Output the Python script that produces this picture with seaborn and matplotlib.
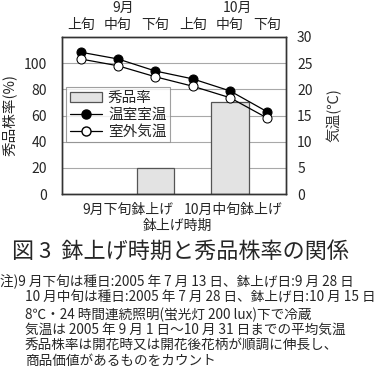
import numpy as np
import pandas as pd
import matplotlib
matplotlib.use("Agg")
from matplotlib import pyplot as plt
from matplotlib.patches import Patch
from matplotlib.lines import Line2D
import seaborn as sns

# data
periods = ["9月上旬", "9月中旬", "9月下旬", "10月上旬", "10月中旬", "10月下旬"]
top_labels = ["上旬", "中旬", "下旬", "上旬", "中旬", "下旬"]
shuhin_rate = [np.nan, np.nan, 20, np.nan, 70, np.nan]
greenhouse_temp = [27.1, 25.8, 23.5, 22.0, 19.7, 15.7]
outdoor_temp = [25.8, 24.5, 22.4, 20.6, 18.4, 14.5]
left_ticks = [0, 20, 40, 60, 80, 100]
right_ticks = [0, 5, 10, 15, 20, 25, 30]

notes = [
    "注)9 月下旬は種日:2005 年 7 月 13 日、鉢上げ日:9 月 28 日",
    "10 月中旬は種日:2005 年 7 月 28 日、鉢上げ日:10 月 15 日",
    "8℃・24 時間連続照明(蛍光灯 200 lux)下で冷蔵",
    "気温は 2005 年 9 月 1 日～10 月 31 日までの平均気温",
    "秀品株率は開花時又は開花後花柄が順調に伸長し、",
    "商品価値があるものをカウント",
]

sns.set_style("white")
plt.rcParams['font.family'] = ['Noto Sans CJK JP', 'DejaVu Sans']

df = pd.DataFrame({"period": periods, "rate": shuhin_rate,
                   "pos": range(len(periods)),
                   "green": greenhouse_temp, "out": outdoor_temp})

fig = plt.figure(figsize=(3.8, 3.8), dpi=100)
ax = fig.add_axes([62 / 380, 1 - 194 / 380, 224 / 380, 157 / 380])

sns.barplot(data=df, x="period", y="rate", order=periods, ax=ax,
            color="#e3e3e3", edgecolor="#555555", linewidth=0.9, width=1.0,
            saturation=1)
ax.set_xlim(-0.5, 5.5)
ax.set_ylim(0, 120)
ax.set_yticks(left_ticks)
ax.yaxis.grid(True, color="#a8a8a8", linewidth=0.8)
ax.set_axisbelow(True)
ax.set_xticks([])
ax.set_xlabel("")
ax.set_ylabel("秀品株率(%)", fontsize=10.5, labelpad=5)
ax.tick_params(axis="y", length=0, pad=11, labelsize=10)

ax2 = ax.twinx()
sns.lineplot(data=df, x="pos", y="green", ax=ax2, color="black", linewidth=0.9,
             marker="o", markersize=6.5, markerfacecolor="black",
             markeredgecolor="black")
sns.lineplot(data=df, x="pos", y="out", ax=ax2, color="black", linewidth=0.9,
             marker="o", markersize=6.5, markerfacecolor="white",
             markeredgecolor="black")
ax2.set_ylim(0, 30)
ax2.set_yticks(right_ticks)
ax2.set_xlim(-0.5, 5.5)
ax2.set_xlabel("")
ax2.set_ylabel("気温(℃)", fontsize=10.5, labelpad=10, rotation=90, color="#333333")
ax2.tick_params(axis="y", length=0, pad=8, labelsize=10)

for a in (ax, ax2):
    for s in a.spines.values():
        s.set_color("#333333")
        s.set_linewidth(1.0)

# top period labels
trans = ax.get_xaxis_transform()
for i, lab in enumerate(top_labels):
    ax.text(i, 1.035, lab, transform=trans, ha="center", va="bottom", fontsize=10)
ax.text(1.13, 1.14, "9月", transform=trans, ha="center", va="bottom", fontsize=10)
ax.text(4.19, 1.14, "10月", transform=trans, ha="center", va="bottom", fontsize=10)

# bottom labels
ax.text(1.27, -0.055, "9月下旬鉢上げ", transform=trans, ha="center", va="top", fontsize=10)
ax.text(4.08, -0.055, "10月中旬鉢上げ", transform=trans, ha="center", va="top", fontsize=10)
ax.text(2.6, -0.16, "鉢上げ時期", transform=trans, ha="center", va="top", fontsize=10)

handles = [
    Patch(facecolor="#e3e3e3", edgecolor="#555555", linewidth=0.9),
    Line2D([], [], color="black", linewidth=0.9, marker="o", markersize=6.5,
           markerfacecolor="black"),
    Line2D([], [], color="black", linewidth=0.9, marker="o", markersize=6.5,
           markerfacecolor="white"),
]
leg = ax2.legend(handles, ["秀品率", "温室室温", "室外気温"], loc="upper left",
                 bbox_to_anchor=(0.02, 0.68), fontsize=10.5, frameon=True,
                 fancybox=False, edgecolor="#888888", handlelength=2.2,
                 borderpad=0.25, labelspacing=0.2, handletextpad=0.4,
                 borderaxespad=0)
leg.get_frame().set_linewidth(0.8)

fig.text(12 / 380, 1 - 252 / 380, "図 3  鉢上げ時期と秀品株率の関係", fontsize=15.9,
         ha="left", va="center")
ys = [282, 298, 315, 330, 346, 361]
for k, (line, y) in enumerate(zip(notes, ys)):
    x = 0 if k == 0 else 25
    fig.text(x / 380, 1 - y / 380, line, fontsize=9.8, ha="left", va="center")

fig.savefig("out.png", dpi=100)
